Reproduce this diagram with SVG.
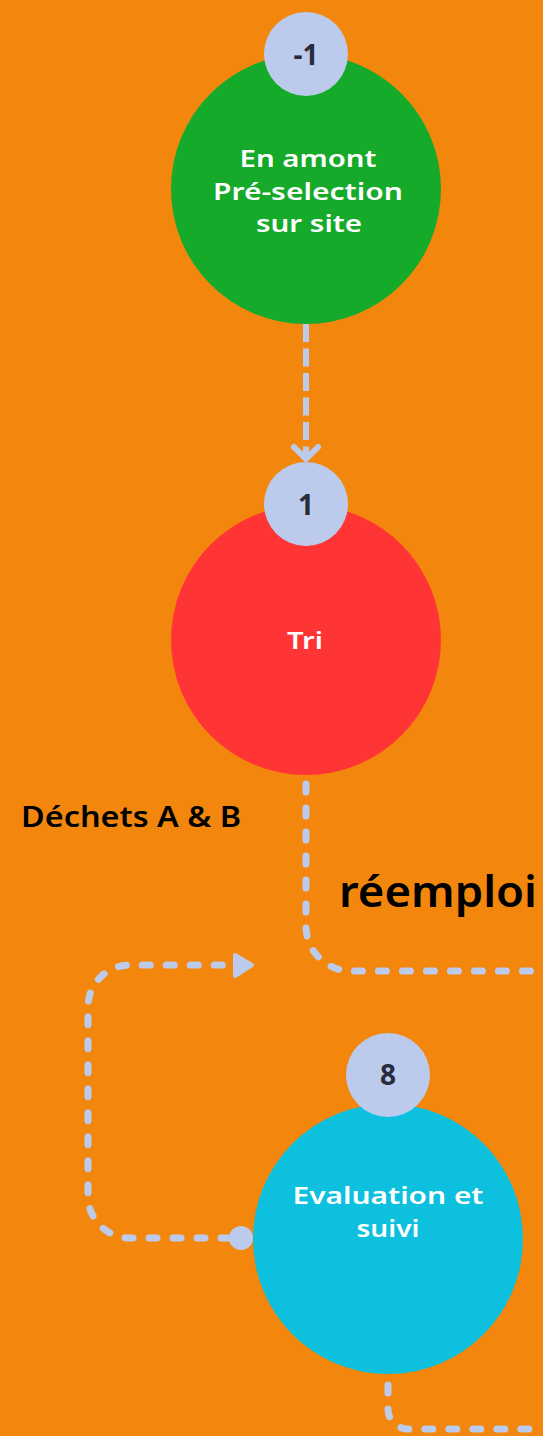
<svg xmlns="http://www.w3.org/2000/svg" width="543" height="1436" viewBox="0 0 543 1436">
<defs>
<style>
.bg{fill:#F3870E}
.badge{fill:#BCCBEC}
.num{font-family:"Noto Sans","DejaVu Sans",sans-serif;font-weight:700;font-size:28px;fill:#272B3B;text-anchor:middle}
.lbl{font-family:"Noto Sans","DejaVu Sans",sans-serif;font-weight:600;font-size:24px;fill:#FFFFFF;text-anchor:middle}
.free{font-family:"Noto Sans","DejaVu Sans",sans-serif;font-weight:600;fill:#000000}
.dash-sq{fill:none;stroke:#BCCBEC;stroke-width:6;stroke-dasharray:18 6.5}
.dash-rd{fill:none;stroke:#BCCBEC;stroke-width:7;stroke-dasharray:8 16;stroke-linecap:round}
</style>
</defs>
<rect class="bg" x="0" y="0" width="543" height="1436"/>
<g id="connectors">
<path class="dash-sq" d="M306 324 V456"/>
<polyline points="294,447 306,459 318,447" fill="none" stroke="#BCCBEC" stroke-width="6" stroke-linejoin="round" stroke-linecap="round"/>
<path class="dash-rd" d="M306 784 V926 A45 45 0 0 0 351 971 H543"/>
<path class="dash-rd" d="M229 1238 H130 A42 42 0 0 1 88 1196 V1007 A42 42 0 0 1 130 965 H236"/>
<polygon points="235,955 252,965 235,976" fill="#BCCBEC" stroke="#BCCBEC" stroke-width="4" stroke-linejoin="round"/>
<circle cx="241" cy="1238" r="12" fill="#BCCBEC"/>
<path class="dash-rd" d="M388 1385 V1409 A20 20 0 0 0 408 1429 H543"/>
</g>
<g id="node-preselection">
<circle cx="306" cy="189" r="135" fill="#15AA29"/>
<circle class="badge" cx="306" cy="54" r="42"/>
<text class="num" x="306" y="65">-1</text>
<text class="lbl" x="308" y="167" textLength="137" lengthAdjust="spacingAndGlyphs">En amont</text>
<text class="lbl" x="308" y="200" textLength="190" lengthAdjust="spacingAndGlyphs">Pré-selection</text>
<text class="lbl" x="309" y="232" textLength="106" lengthAdjust="spacingAndGlyphs">sur site</text>
</g>
<g id="node-tri">
<circle cx="306" cy="640" r="135" fill="#FF3535"/>
<circle class="badge" cx="306" cy="504" r="42"/>
<text class="num" x="306" y="515">1</text>
<text class="lbl" x="305" y="649" textLength="36" lengthAdjust="spacingAndGlyphs">Tri</text>
</g>
<g id="node-evaluation">
<circle cx="388" cy="1239" r="135" fill="#0DC0DE"/>
<circle class="badge" cx="388" cy="1075" r="42"/>
<text class="num" x="388" y="1085">8</text>
<text class="lbl" x="388" y="1204" textLength="191" lengthAdjust="spacingAndGlyphs">Evaluation et</text>
<text class="lbl" x="388" y="1237" textLength="63" lengthAdjust="spacingAndGlyphs">suivi</text>
</g>
<g id="labels">
<text class="free" x="21" y="827" font-size="28" textLength="220" lengthAdjust="spacingAndGlyphs">Déchets A &amp; B</text>
<text class="free" x="339" y="907" font-size="44" textLength="198" lengthAdjust="spacingAndGlyphs">réemploi</text>
</g>
</svg>
